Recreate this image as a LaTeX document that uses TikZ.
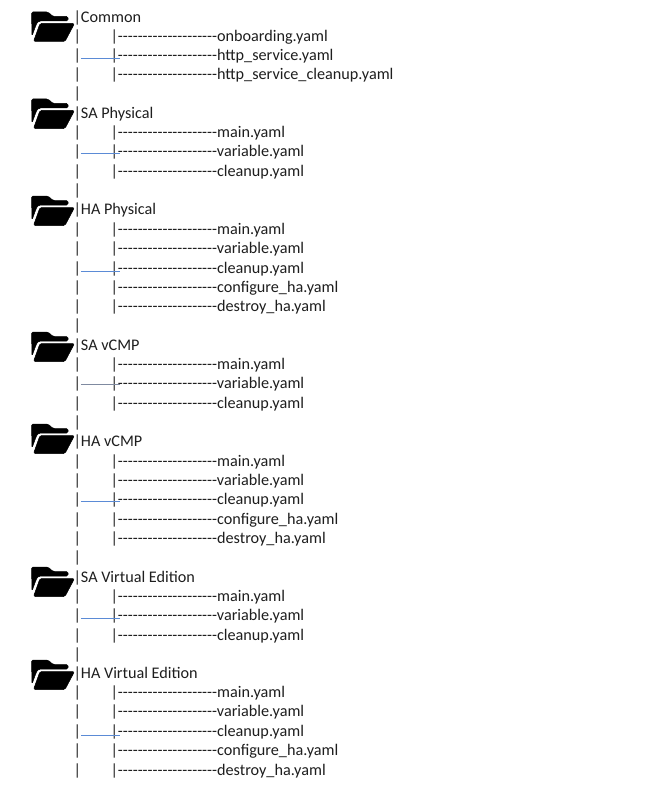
\documentclass[tikz,border=0pt]{standalone}
\usepackage{fontspec}
\newfontfamily\listfont{Carlito}
\usetikzlibrary{positioning}
\definecolor{linkblue}{HTML}{5B8BD6}
\definecolor{linkgrey}{HTML}{7F8AA0}
\definecolor{listtext}{HTML}{1E1E1E}
\tikzset{
  listnode/.style={inner sep=0pt,outer sep=0pt,anchor=base west,text=listtext,font=\listfont\fontsize{16.2}{18}\selectfont},
  link/.style={line width=1pt},
  folderpart/.style={fill=black,draw=black,line width=0.5pt,rounded corners=1.5pt},
  pics/folder/.style={code={
    \draw[folderpart] (31.5,1) -- (48,1) -- (53,5.5) -- (68,5.5) -- (68,10) -- (42,10)
      .. controls (38,10) and (37,12) .. (36,14) -- (32,25) -- cycle;
    \draw[folderpart] (40,12.5) -- (74.5,12.5) -- (65,30.5) -- (33.5,30.5) -- cycle;
  }}
}
\newcommand{\dashrun}{-{}-{}-{}-{}-{}-{}-{}-{}-{}-{}-{}-{}-{}-{}-{}-{}-{}-{}-{}-{}}
\begin{document}
\begin{tikzpicture}[x=1pt,y=-1pt]
  \path[use as bounding box,fill=white] (0,0) rectangle (668,789);
  % folder headings
  \foreach \r/\top/\name in {17/11/Common,113/98/SA Physical,209/195/HA Physical,345/331/SA vCMP,
    441/423/HA vCMP,577/566/SA Virtual Edition,673/659/HA Virtual Edition}{
    \pic at (0,\top) {folder};
    \node[listnode] (head\r) at (73.5,\r+5.8) {|\name};
  }
  % bars standing alone
  \foreach \r in {93,190,325,422,557,654}{
    \node[listnode] (gap\r) at (73.5,\r+5.8) {|};
  }
  % files
  \foreach \r/\name in {36/onboarding,55/http\_service,74/http\_service\_cleanup,
    132/main,151/variable,171/cleanup,
    229/main,248/variable,268/cleanup,287/configure\_ha,306/destroy\_ha,
    364/main,383/variable,403/cleanup,
    461/main,480/variable,499/cleanup,519/configure\_ha,538/destroy\_ha,
    596/main,615/variable,635/cleanup,
    692/main,711/variable,731/cleanup,750/configure\_ha,770/destroy\_ha}{
    \node[listnode] (bar\r) at (73.5,\r+5.8) {|};
    \node[listnode] (file\r) at (110.5,\r+5.8) {|\dashrun\name.yaml};
  }
  % lines across
  \foreach \r/\dy/\col in {55/-2/linkblue,151/-1.5/linkblue,268/-2/linkblue,383/-0.5/linkgrey,
    499/-1.5/linkblue,615/-2.5/linkblue,731/-3/linkblue}{
    \draw[link,draw=\col] ([yshift=\dy pt]bar\r.east) -- ([xshift=39pt,yshift=\dy pt]bar\r.east);
  }
\end{tikzpicture}
\end{document}
